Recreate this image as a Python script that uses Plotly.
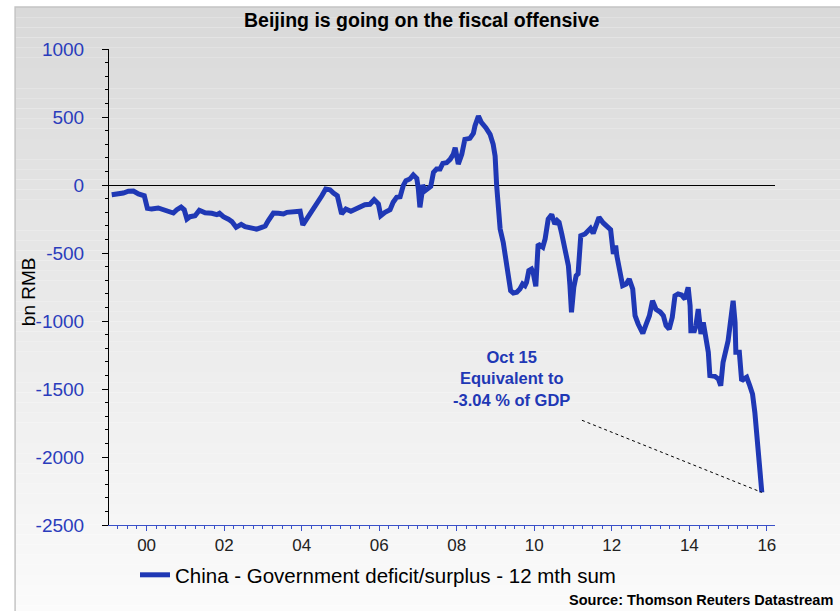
import plotly.graph_objects as go

# ---- data ----
years = [
    1999.10, 1999.27, 1999.40, 1999.53, 1999.66, 1999.79, 1999.94, 2000.02, 2000.13, 2000.30,
    2000.48, 2000.61, 2000.69, 2000.78, 2000.89, 2000.97, 2001.04, 2001.12, 2001.25, 2001.36,
    2001.51, 2001.68, 2001.81, 2001.88, 2001.98, 2002.11, 2002.20, 2002.31, 2002.44, 2002.54,
    2002.71, 2002.84, 2002.97, 2003.06, 2003.14, 2003.27, 2003.40, 2003.53, 2003.62, 2003.74,
    2003.87, 2003.96, 2004.03, 2004.13, 2004.26, 2004.39, 2004.52, 2004.62, 2004.73, 2004.82,
    2004.92, 2005.03, 2005.14, 2005.27, 2005.38, 2005.51, 2005.63, 2005.76, 2005.87, 2005.98,
    2006.04, 2006.15, 2006.28, 2006.36, 2006.45, 2006.54, 2006.62, 2006.69, 2006.79, 2006.88,
    2006.97, 2007.01, 2007.05, 2007.10, 2007.12, 2007.18, 2007.27, 2007.33, 2007.40, 2007.48,
    2007.57, 2007.64, 2007.74, 2007.83, 2007.91, 2007.96, 2008.04, 2008.13, 2008.21, 2008.34,
    2008.43, 2008.47, 2008.56, 2008.64, 2008.75, 2008.86, 2008.94, 2008.99, 2009.03, 2009.07,
    2009.12, 2009.20, 2009.27, 2009.33, 2009.39, 2009.46, 2009.55, 2009.63, 2009.70, 2009.76,
    2009.80, 2009.86, 2009.93, 2009.97, 2010.04, 2010.10, 2010.17, 2010.22, 2010.28, 2010.36,
    2010.45, 2010.53, 2010.59, 2010.64, 2010.71, 2010.79, 2010.88, 2010.92, 2010.96, 2011.02,
    2011.08, 2011.13, 2011.20, 2011.31, 2011.39, 2011.45, 2011.52, 2011.59, 2011.67, 2011.78,
    2011.88, 2011.97, 2012.04, 2012.10, 2012.13, 2012.19, 2012.28, 2012.37, 2012.45, 2012.54,
    2012.60, 2012.68, 2012.80, 2012.88, 2012.97, 2013.05, 2013.14, 2013.25, 2013.33, 2013.40,
    2013.48, 2013.56, 2013.63, 2013.71, 2013.80, 2013.89, 2013.97, 2014.02, 2014.04, 2014.13,
    2014.17, 2014.23, 2014.27, 2014.30, 2014.36, 2014.40, 2014.49, 2014.53, 2014.66, 2014.75,
    2014.81, 2014.87, 2015.00, 2015.06, 2015.13, 2015.18, 2015.20, 2015.29, 2015.35, 2015.41,
    2015.48, 2015.56, 2015.63, 2015.69, 2015.75, 2015.80, 2015.87,
]
deficit = [
    -71, -68, -59, -46, -44, -66, -79, -171, -176, -169,
    -186, -199, -206, -182, -162, -182, -250, -233, -226, -186,
    -204, -208, -218, -208, -233, -252, -269, -311, -289, -306,
    -318, -325, -311, -302, -262, -206, -208, -213, -201, -196,
    -188, -193, -294, -250, -201, -147, -79, -29, -35, -59,
    -79, -213, -176, -193, -176, -164, -145, -142, -108, -140,
    -226, -201, -182, -127, -90, -87, -5, 32, 44, 74,
    49, -29, -164, -66, 0, -42, -29, -10, 93, 118,
    118, 159, 164, 188, 225, 274, 154, 225, 336, 343,
    380, 434, 507, 458, 421, 373, 299, 213, -5, -152,
    -324, -422, -544, -667, -777, -794, -789, -765, -728, -740,
    -716, -630, -618, -642, -745, -434, -446, -458, -397, -250,
    -218, -287, -262, -275, -360, -483, -593, -740, -936, -752,
    -667, -654, -373, -360, -336, -319, -355, -287, -238, -279,
    -304, -328, -507, -446, -520, -618, -740, -728, -691, -765,
    -961, -1022, -1092, -1028, -961, -851, -914, -934, -961, -1034,
    -1059, -973, -814, -801, -809, -838, -752, -887, -1071, -1071,
    -1034, -912, -1010, -1096, -1010, -1083, -1230, -1402, -1407, -1426,
    -1476, -1304, -1145, -1010, -851, -1010, -1230, -1230, -1439, -1426,
    -1414, -1476, -1537, -1672, -1868, -2064, -2260,
]
series_name = "China - Government deficit/surplus - 12 mth sum"
tick_years = [2000, 2002, 2004, 2006, 2008, 2010, 2012, 2014, 2016]
tick_labels = ["00", "02", "04", "06", "08", "10", "12", "14", "16"]
y_ticks = [-2500, -2000, -1500, -1000, -500, 0, 500, 1000]
y_tick_labels = ["-2500", "-2000", "-1500", "-1000", "-500", "0", "500", "1000"]
note_text = "<b>Oct 15<br>Equivalent to<br>-3.04 % of GDP</b>"
note_anchor = (2011.23, -1730)   # start of dotted pointer (data units)

BLUE = "#1f38b5"

fig = go.Figure()
fig.add_trace(go.Scatter(
    x=years, y=deficit, mode="lines", name=series_name,
    line=dict(color=BLUE, width=5),
))

# ---- gradient background frame (style only) ----
shapes = []
x0p, x1p = -0.141, 1.12
ytop, ybot = 1.088, -0.19
N = 60
for i in range(N):
    ya = ytop - (ytop - ybot) * i / N
    yb = ytop - (ytop - ybot) * (i + 1) / N
    g = int(round(217 + (251 - 217) * (i + 0.5) / N))
    shapes.append(dict(type="rect", xref="paper", yref="paper", x0=x0p, x1=x1p,
                       y0=yb, y1=ya, fillcolor=f"rgb({g},{g},{g})",
                       line=dict(width=0), layer="below"))
shapes.append(dict(type="rect", xref="paper", yref="paper", x0=x0p, x1=x1p,
                   y0=ybot, y1=ytop, fillcolor="rgba(0,0,0,0)",
                   line=dict(color="#c4c4c4", width=1.5), layer="below"))
# dotted pointer
shapes.append(dict(type="line", xref="x", yref="y", x0=note_anchor[0], y0=note_anchor[1],
                   x1=years[-1], y1=deficit[-1], line=dict(color="black", width=1, dash="dot")))

fig.update_layout(
    width=840, height=611,
    margin=dict(l=109, r=65, t=49, b=86),
    paper_bgcolor="white", plot_bgcolor="rgba(0,0,0,0)",
    font=dict(family="Liberation Sans, Arial, sans-serif", color="black"),
    title=dict(text="<b>Beijing is going on the fiscal offensive</b>",
               x=0.502, xanchor="center", y=0.967, yanchor="middle",
               font=dict(size=19.5, color="black")),
    shapes=shapes,
    showlegend=True,
    legend=dict(orientation="h", x=0.039, xanchor="left", y=-0.105, yanchor="middle",
                bgcolor="rgba(0,0,0,0)", font=dict(size=20.5, color="black")),
    annotations=[
        dict(text="bn RMB", xref="paper", yref="paper", x=-0.121, y=0.49, textangle=-90,
             xanchor="center", yanchor="middle",
             showarrow=False, font=dict(size=19, color="black")),
        dict(text=note_text, xref="paper", yref="paper", x=0.604, y=0.307,
             xanchor="center", yanchor="middle",
             showarrow=False, align="center", font=dict(size=16.5, color=BLUE)),
        dict(text="<b>Source: Thomson Reuters Datastream</b>", xref="paper", yref="paper",
             x=1.09, y=-0.158, xanchor="right", yanchor="middle", showarrow=False,
             font=dict(size=14.5, color="black")),
    ],
)
fig.update_xaxes(
    range=[1999.03, 2016.21], tickvals=tick_years, ticktext=tick_labels,
    showgrid=False, zeroline=False, showline=True, linecolor="#3a50c8", linewidth=1,
    ticks="outside", ticklen=5, tickcolor="#3a50c8",
    minor=dict(dtick=0.25, tick0=2000, ticks="outside", ticklen=3, tickcolor="#3a50c8"),
    tickfont=dict(size=17, color="#222222"),
)
fig.update_yaxes(
    range=[-2500, 1000], tickvals=y_ticks, ticktext=y_tick_labels,
    showgrid=False, zeroline=True, zerolinecolor="black", zerolinewidth=1,
    showline=True, linecolor="black", linewidth=1,
    ticks="outside", ticklen=6, tickcolor="black",
    minor=dict(dtick=100, tick0=0, ticks="outside", ticklen=3, tickcolor="black"),
    tickfont=dict(size=19, color="#2a3cbc"), ticklabelstandoff=14,
)
fig.write_html("out.html", config={"displayModeBar": False},
               post_script="document.body.style.margin='0';")
